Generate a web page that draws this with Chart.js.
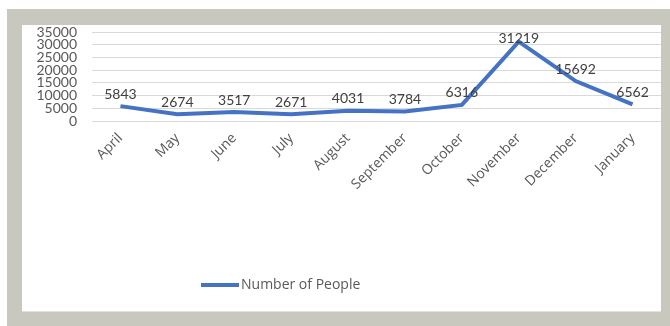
<!DOCTYPE html>
<html>
<head>
<meta charset="utf-8">
<script src="https://cdn.jsdelivr.net/npm/chart.js@4.4.1/dist/chart.umd.min.js"></script>
<style>
  html, body { margin: 0; padding: 0; background: #ffffff; }
  body { width: 670px; height: 326px; position: relative; overflow: hidden; }
  #frame { position: absolute; left: 7px; top: 9px; width: 663px; height: 317px; background: #c9c8be; }
  #panel { position: absolute; left: 22px; top: 25px; width: 639px; height: 286px; background: #ffffff;
           border-bottom: 1px solid #e2e1da; }
  canvas { position: absolute; left: 0; top: 0; }
</style>
</head>
<body>
<div id="frame"></div>
<div id="panel"><canvas id="chart" width="639" height="286"></canvas></div>
<script>
// Monthly head count, April through January
const months = ['April', 'May', 'June', 'July', 'August', 'September', 'October', 'November', 'December', 'January'];
const people = [5843, 2674, 3517, 2671, 4031, 3784, 6316, 31219, 15692, 6562];
const seriesName = 'Number of People';
const yMin = 0;
const yMax = 35000;
const yStep = 5000;

const lineColor = '#4472C4';
const textColor = '#595959';
const labelColor = '#404040';

// Value labels written above each point; kept inside the plot's top edge
const valueLabels = {
  id: 'valueLabels',
  afterDatasetsDraw(chart) {
    const ctx = chart.ctx;
    const ds = chart.data.datasets[0];
    const meta = chart.getDatasetMeta(0);
    const minBottom = chart.chartArea.top + 13;
    ctx.save();
    ctx.font = '14px Lato';
    ctx.fillStyle = labelColor;
    ctx.textAlign = 'center';
    ctx.textBaseline = 'bottom';
    meta.data.forEach((pt, i) => {
      ctx.fillText(String(ds.data[i]), pt.x, Math.max(pt.y - 5, minBottom));
    });
    ctx.restore();
  }
};

// Legend entry: short line sample followed by the series name
const lineLegend = {
  id: 'lineLegend',
  afterDraw(chart) {
    const ctx = chart.ctx;
    const ds = chart.data.datasets[0];
    const x0 = 179, y0 = 260;
    ctx.save();
    ctx.strokeStyle = ds.borderColor;
    ctx.lineWidth = 4;
    ctx.beginPath();
    ctx.moveTo(x0, y0);
    ctx.lineTo(x0 + 38, y0);
    ctx.stroke();
    ctx.font = '14px "Open Sans"';
    ctx.fillStyle = textColor;
    ctx.textAlign = 'left';
    ctx.textBaseline = 'middle';
    ctx.fillText(ds.label, x0 + 40, y0);
    ctx.restore();
  }
};

new Chart(document.getElementById('chart'), {
  type: 'line',
  data: {
    labels: months,
    datasets: [{
      label: seriesName,
      data: people,
      borderColor: lineColor,
      backgroundColor: lineColor,
      borderWidth: 4,
      pointRadius: 0,
      pointHoverRadius: 0,
      tension: 0,
      fill: false
    }]
  },
  options: {
    responsive: false,
    animation: false,
    devicePixelRatio: 1,
    layout: { padding: { top: 7, left: 0, right: 0, bottom: 0 } },
    plugins: {
      legend: { display: false },
      tooltip: { enabled: false }
    },
    scales: {
      y: {
        min: yMin,
        max: yMax,
        afterFit(scale) {
          scale.width = 70;
          scale.paddingTop = 0;
          scale.paddingBottom = 0;
        },
        ticks: {
          stepSize: yStep,
          autoSkip: false,
          padding: 15,
          color: textColor,
          font: { family: 'Lato', size: 14, lineHeight: 1 },
          callback: (v) => String(v)
        },
        grid: { color: '#d9d9d9', lineWidth: 1, drawTicks: false },
        border: { display: false }
      },
      x: {
        offset: true,
        afterFit(scale) { scale.height = 190; },
        ticks: {
          autoSkip: false,
          minRotation: 45,
          maxRotation: 45,
          padding: 9,
          color: textColor,
          font: { family: 'Open Sans', size: 14 }
        },
        grid: { display: false, drawTicks: false },
        border: { display: false }
      }
    }
  },
  plugins: [valueLabels, lineLegend]
});
</script>
</body>
</html>
